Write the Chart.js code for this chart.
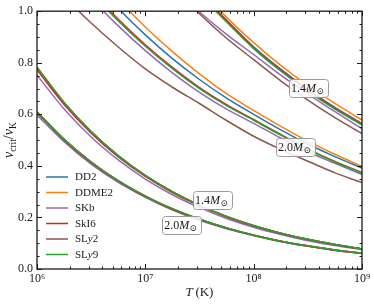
<!DOCTYPE html>
<html>
<head>
<meta charset="utf-8">
<script src="https://cdn.jsdelivr.net/npm/chart.js@4.4.1/dist/chart.umd.min.js"></script>
<style>
  html, body { margin: 0; padding: 0; background: #fff; }
  #wrap { width: 374px; height: 304px; position: relative; }
</style>
</head>
<body>
<div id="wrap"><canvas id="c"></canvas></div>
<script>
// ---- data ----
const T = [1e6, 1.778e6, 3.162e6, 5.623e6, 1e7, 1.778e7, 3.162e7, 5.623e7, 1e8, 1.778e8, 3.162e8, 5.623e8, 1e9];

const eosNames  = ['DD2', 'DDME2', 'SKb', 'SkI6', 'SLy2', 'SLy9'];
const eosColors = ['#1f77b4', '#ff7f0e', '#9467bd', '#d62728', '#8c564b', '#2ca02c'];

// 1.4 Msun, upper family
const DD2_14_hi   = [2.00, 1.80, 1.63, 1.47, 1.32, 1.19, 1.075, 0.966, 0.862, 0.775, 0.697, 0.627, 0.564];
const DDME2_14_hi = [2.03, 1.83, 1.65, 1.49, 1.34, 1.21, 1.090, 0.977, 0.878, 0.790, 0.712, 0.642, 0.578];
const SKb_14_hi   = [1.85, 1.66, 1.50, 1.35, 1.22, 1.105, 0.998, 0.910, 0.832, 0.752, 0.680, 0.610, 0.544];
const SkI6_14_hi  = [1.99, 1.79, 1.62, 1.46, 1.31, 1.185, 1.070, 0.962, 0.858, 0.772, 0.694, 0.624, 0.562];
const SLy2_14_hi  = [1.80, 1.62, 1.46, 1.33, 1.21, 1.095, 0.990, 0.895, 0.812, 0.730, 0.655, 0.587, 0.525];
const SLy9_14_hi  = [1.98, 1.78, 1.61, 1.45, 1.30, 1.18, 1.065, 0.958, 0.855, 0.768, 0.690, 0.620, 0.559];

// 2.0 Msun, upper family
const DD2_20_hi   = [1.40, 1.254, 1.126, 1.011, 0.908, 0.816, 0.735, 0.663, 0.600, 0.540, 0.485, 0.436, 0.392];
const DDME2_20_hi = [1.45, 1.300, 1.165, 1.046, 0.939, 0.843, 0.757, 0.680, 0.615, 0.553, 0.496, 0.445, 0.398];
const SKb_20_hi   = [1.30, 1.170, 1.050, 0.943, 0.847, 0.761, 0.685, 0.620, 0.565, 0.508, 0.455, 0.410, 0.366];
const SkI6_20_hi  = [1.34, 1.200, 1.079, 0.969, 0.870, 0.782, 0.704, 0.638, 0.580, 0.522, 0.466, 0.417, 0.374];
const SLy2_20_hi  = [1.17, 1.057, 0.954, 0.861, 0.776, 0.705, 0.642, 0.576, 0.515, 0.464, 0.418, 0.373, 0.335];
const SLy9_20_hi  = [1.33, 1.190, 1.072, 0.962, 0.864, 0.777, 0.700, 0.634, 0.577, 0.519, 0.464, 0.415, 0.372];

// 1.4 Msun, lower family
const DD2_14_lo   = [0.781, 0.645, 0.532, 0.439, 0.362, 0.299, 0.247, 0.204, 0.168, 0.139, 0.115, 0.095, 0.078];
const DDME2_14_lo = [0.782, 0.646, 0.533, 0.440, 0.363, 0.300, 0.247, 0.204, 0.168, 0.139, 0.115, 0.095, 0.078];
const SKb_14_lo   = [0.752, 0.621, 0.512, 0.423, 0.349, 0.288, 0.238, 0.196, 0.162, 0.134, 0.110, 0.091, 0.075];
const SkI6_14_lo  = [0.773, 0.638, 0.527, 0.435, 0.359, 0.296, 0.245, 0.202, 0.167, 0.138, 0.114, 0.094, 0.077];
const SLy2_14_lo  = [0.781, 0.645, 0.532, 0.439, 0.362, 0.299, 0.247, 0.204, 0.168, 0.139, 0.115, 0.095, 0.078];
const SLy9_14_lo  = [0.783, 0.646, 0.533, 0.440, 0.363, 0.300, 0.248, 0.204, 0.169, 0.139, 0.115, 0.095, 0.078];

// 2.0 Msun, lower family
const DD2_20_lo   = [0.609, 0.503, 0.415, 0.342, 0.283, 0.233, 0.193, 0.159, 0.131, 0.108, 0.089, 0.074, 0.061];
const DDME2_20_lo = [0.610, 0.503, 0.415, 0.343, 0.283, 0.234, 0.193, 0.159, 0.131, 0.108, 0.090, 0.074, 0.061];
const SKb_20_lo   = [0.598, 0.494, 0.407, 0.336, 0.278, 0.229, 0.189, 0.156, 0.129, 0.106, 0.088, 0.072, 0.060];
const SkI6_20_lo  = [0.606, 0.500, 0.413, 0.341, 0.281, 0.232, 0.192, 0.158, 0.131, 0.108, 0.089, 0.073, 0.061];
const SLy2_20_lo  = [0.609, 0.503, 0.415, 0.342, 0.283, 0.233, 0.193, 0.159, 0.131, 0.108, 0.089, 0.074, 0.061];
const SLy9_20_lo  = [0.610, 0.503, 0.415, 0.343, 0.283, 0.234, 0.193, 0.159, 0.131, 0.108, 0.090, 0.074, 0.061];

const xTicks = [1e6, 1e7, 1e8, 1e9];
const xTickLabels = ['10\u2076', '10\u2077', '10\u2078', '10\u2079'];
const yTicks = [0.0, 0.2, 0.4, 0.6, 0.8, 1.0];
const yTickLabels = ['0.0', '0.2', '0.4', '0.6', '0.8', '1.0'];

// annotation labels: [T, y, mass text]
const massLabels = [
  [3.18e8, 0.701, '1.4'],
  [2.41e8, 0.475, '2.0'],
  [4.13e7, 0.268, '1.4'],
  [2.14e7, 0.169, '2.0']
];

// ---- build datasets ----
const seriesByEos = [
  [DD2_14_hi, DD2_20_hi, DD2_14_lo, DD2_20_lo],
  [DDME2_14_hi, DDME2_20_hi, DDME2_14_lo, DDME2_20_lo],
  [SKb_14_hi, SKb_20_hi, SKb_14_lo, SKb_20_lo],
  [SkI6_14_hi, SkI6_20_hi, SkI6_14_lo, SkI6_20_lo],
  [SLy2_14_hi, SLy2_20_hi, SLy2_14_lo, SLy2_20_lo],
  [SLy9_14_hi, SLy9_20_hi, SLy9_14_lo, SLy9_20_lo]
];
const datasets = [];
seriesByEos.forEach((group, e) => {
  group.forEach((arr) => {
    datasets.push({
      label: eosNames[e],
      data: T.map((t, i) => ({ x: t, y: arr[i] })),
      borderColor: eosColors[e],
      backgroundColor: eosColors[e],
      borderWidth: 1.5,
      pointRadius: 0,
      fill: false,
      cubicInterpolationMode: 'monotone',
      order: 10 - e
    });
  });
});

const SERIF = '"Liberation Serif", "DejaVu Serif", serif';
const INK = '#1a1a1a';

const decor = {
  id: 'decor',
  afterDatasetsDraw(chart) {
    const ctx = chart.ctx;
    const xs = chart.scales.x, ys = chart.scales.y;
    ctx.save();
    // mass labels
    massLabels.forEach(([t, v, m]) => {
      const px = xs.getPixelForValue(t), py = ys.getPixelForValue(v);
      const w = 39, h = 18, r = 3;
      const x0 = Math.round(px - w / 2) + 0.5, y0 = Math.round(py - h / 2) + 0.5;
      ctx.beginPath();
      ctx.roundRect(x0, y0, w, h, r);
      ctx.fillStyle = 'rgba(255,255,255,0.85)';
      ctx.fill();
      ctx.strokeStyle = '#9a9a9a';
      ctx.lineWidth = 1;
      ctx.stroke();
      ctx.fillStyle = INK;
      ctx.textBaseline = 'alphabetic';
      ctx.textAlign = 'left';
      ctx.font = '12px ' + SERIF;
      const base = py + 4;
      let cx = px - 17;
      ctx.fillText(m, cx, base); cx += ctx.measureText(m).width;
      ctx.font = 'italic 12px ' + SERIF;
      ctx.fillText('M', cx, base); cx += ctx.measureText('M').width;
      ctx.font = '9px ' + SERIF;
      ctx.fillText('\u2299', cx + 0.5, base + 2);
    });
    ctx.restore();
  },
  afterDraw(chart) {
    const ctx = chart.ctx;
    const a = chart.chartArea;
    const xs = chart.scales.x, ys = chart.scales.y;
    ctx.save();
    ctx.strokeStyle = INK;
    ctx.lineWidth = 1;
    // ticks (inward, all four sides)
    const tick = (x1, y1, x2, y2) => { ctx.beginPath(); ctx.moveTo(x1, y1); ctx.lineTo(x2, y2); ctx.stroke(); };
    for (let k = 0; k <= 20; k++) {
      const v = k * 0.05;
      const py = Math.round(ys.getPixelForValue(v)) + 0.5;
      const len = (k % 4 === 0) ? 5 : 2.5;
      tick(a.left, py, a.left + len, py);
      tick(a.right, py, a.right - len, py);
    }
    for (let d = 6; d <= 9; d++) {
      for (let m = 1; m <= 9; m++) {
        const v = m * Math.pow(10, d);
        if (v > 1e9 * 1.0001) break;
        const px = Math.round(xs.getPixelForValue(v)) + 0.5;
        const len = (m === 1) ? 5 : 2.5;
        tick(px, a.bottom, px, a.bottom - len);
        tick(px, a.top, px, a.top + len);
      }
    }
    // frame
    ctx.lineWidth = 1.3;
    ctx.strokeRect(a.left, a.top, a.right - a.left, a.bottom - a.top);

    // legend
    const lx = 46, ly0 = 177, dy = 15.5;
    eosNames.forEach((n, i) => {
      const y = ly0 + i * dy;
      ctx.strokeStyle = eosColors[i];
      ctx.lineWidth = 1.5;
      tick(lx, y, lx + 22, y);
      ctx.fillStyle = INK;
      ctx.textBaseline = 'middle';
      ctx.textAlign = 'left';
      let cx = lx + 29;
      if (n.startsWith('SLy')) {
        ctx.font = '11px ' + SERIF;
        ctx.fillText('SL', cx, y + 0.5); cx += ctx.measureText('SL').width;
        ctx.font = 'italic 11px ' + SERIF;
        ctx.fillText('y', cx, y + 0.5); cx += ctx.measureText('y').width;
        ctx.font = '11px ' + SERIF;
        ctx.fillText(n.slice(3), cx, y + 0.5);
      } else {
        ctx.font = '11px ' + SERIF;
        ctx.fillText(n, cx, y + 0.5);
      }
    });

    // x axis title: T (K)
    ctx.fillStyle = INK;
    ctx.textBaseline = 'alphabetic';
    ctx.textAlign = 'left';
    ctx.font = 'italic 13px ' + SERIF;
    const tW = ctx.measureText('T').width;
    ctx.font = '13px ' + SERIF;
    const kW = ctx.measureText('\u2009(K)').width;
    let sx = (a.left + a.right) / 2 - (tW + kW) / 2;
    ctx.font = 'italic 13px ' + SERIF;
    ctx.fillText('T', sx, 296);
    ctx.font = '13px ' + SERIF;
    ctx.fillText('\u2009(K)', sx + tW, 296);

    // y axis title: nu_crit / nu_K
    ctx.translate(13, (a.top + a.bottom) / 2);
    ctx.rotate(-Math.PI / 2);
    const parts = [
      ['italic 14px ', '\u03bd', 0],
      ['9.5px ', 'crit', 3],
      ['14px ', '/', 0],
      ['italic 14px ', '\u03bd', 0],
      ['9.5px ', 'K', 3]
    ];
    let total = 0;
    parts.forEach(p => { ctx.font = p[0] + SERIF; total += ctx.measureText(p[1]).width; });
    let px = -total / 2;
    parts.forEach(p => {
      ctx.font = p[0] + SERIF;
      ctx.fillText(p[1], px, p[2]);
      px += ctx.measureText(p[1]).width;
    });
    ctx.restore();
  }
};

new Chart(document.getElementById('c'), {
  type: 'line',
  data: { datasets },
  options: {
    responsive: true,
    maintainAspectRatio: false,
    animation: false,
    events: [],
    layout: { padding: { left: 0, top: 8, right: 12, bottom: 0 } },
    plugins: { legend: { display: false }, tooltip: { enabled: false } },
    scales: {
      x: {
        type: 'logarithmic',
        min: 1e6, max: 1e9,
        border: { display: false },
        grid: { display: false, drawTicks: false },
        afterBuildTicks: (s) => { s.ticks = xTicks.map(v => ({ value: v, major: true })); },
        afterFit: (s) => { s.height = 35; },
        ticks: {
          autoSkip: false, maxRotation: 0, padding: 3,
          color: INK,
          font: { family: SERIF, size: 12 },
          callback: (v, i) => xTickLabels[i]
        }
      },
      y: {
        type: 'linear',
        min: 0, max: 1,
        border: { display: false },
        grid: { display: false, drawTicks: false },
        afterBuildTicks: (s) => { s.ticks = yTicks.map(v => ({ value: v })); },
        afterFit: (s) => { s.width = 37; },
        ticks: {
          padding: 4,
          color: INK,
          font: { family: SERIF, size: 12 },
          callback: (v, i) => yTickLabels[i]
        }
      }
    }
  },
  plugins: [decor]
});
</script>
</body>
</html>
